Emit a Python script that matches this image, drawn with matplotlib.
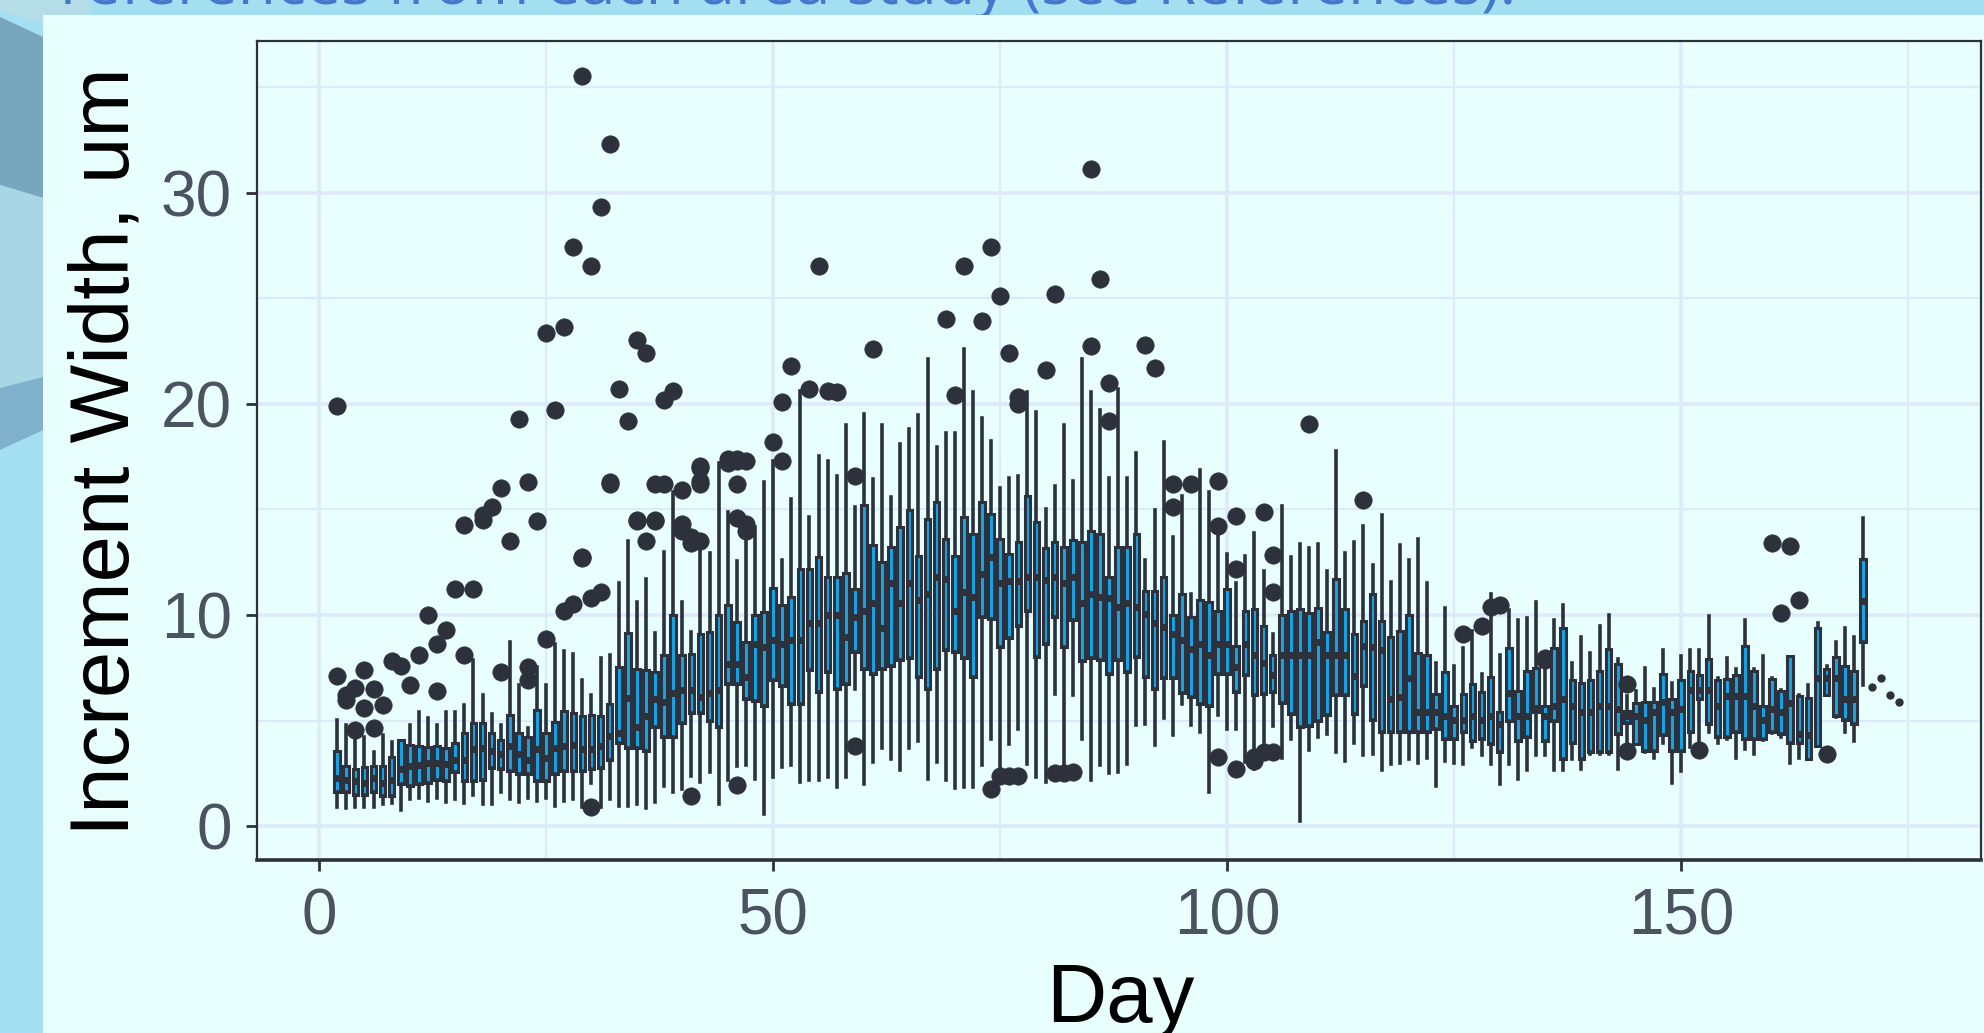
import matplotlib
matplotlib.use("Agg")
import matplotlib.pyplot as plt
from matplotlib.patches import Polygon, Rectangle

# ---------- data ----------
first_day = 2
whishi = [5.04,4.8,4.5,4.2,3.5,4.3,4.0,4.1,4.8,5.4,
          5.1,4.8,5.4,5.4,5.75,7.85,6.2,5.3,4.8,8.7,
          6.7,4.65,7.55,6.7,8.65,8.3,8.15,6.9,6.2,7.95,
          8.1,11.5,13.5,10.6,11.7,9.15,13,15.8,10.6,9.2,
          13.5,12.95,17.2,14.9,12.55,14,14.15,16.3,17.3,12.6,
          15.5,20.6,14.65,17.55,17.3,16.6,19,15.1,19.5,16.45,
          19,15.6,18.1,18.8,19.45,22.1,17.95,18.6,18.6,22.6,
          20.55,19.35,18.25,16,16.5,16.6,20.55,19.6,15,16.1,
          19,16.35,22.1,20.55,19.7,16.5,20.7,16.5,17.65,12.6,
          14.95,18.2,13.7,15.65,11,16.85,15.8,14.5,12.9,11.5,
          12.8,13.9,12.1,9.1,15.15,12.75,13.35,13.15,13.35,12.1,
          17.75,12.95,13.45,14.2,12.35,14.75,11.55,13.3,12.6,13.6,
          11.5,7.75,10.35,7.6,8.45,9.25,7.2,11,8.1,10.25,
          9.75,9.85,10.6,8.2,9.75,10.45,7.75,8.95,8.2,9.5,
          10,7.9,6.15,6.4,7.5,6.5,8.35,6.8,8.05,8.35,
          8.35,9.95,7,7.95,7.45,9.75,7.45,8.05,7,6.45,
          8.05,6.2,6.7,9.6,7.6,8.7,9.4,8.95,14.6]
q3 = [3.55,2.85,2.7,2.8,2.85,2.85,3.3,4.1,3.85,3.8,
      3.75,3.8,3.7,3.95,4.4,4.9,4.9,4.4,4.1,5.25,
      4.4,4.2,5.5,4.4,4.95,5.45,5.35,5.2,5.25,5.2,
      5.8,7.55,9.15,7.45,7.4,7.3,8.1,10,8.1,8.15,
      9.1,9.2,10,10.45,9.65,8.7,10,10.15,11.3,10.45,
      10.85,12.2,12.2,12.75,11.8,11.8,12,11.25,15.2,13.3,
      12.5,13.2,14.15,14.95,12.8,14.55,15.35,13.6,12.8,14.65,
      13.85,15.35,14.8,13.6,12.9,13.45,15.65,14.4,13.15,13.45,
      13.2,13.55,13.45,14,13.85,11.8,13.2,13.2,13.85,11.15,
      11.15,11.8,10,11,9.9,10.7,10.6,10.2,11.25,8.55,
      10.2,10.3,9.5,8.1,10,10.2,10.3,10.1,10.35,9.2,
      11.7,10.3,9.1,9.7,11,9.7,8.95,9.25,10,8.2,
      8.1,6.25,7.3,5.7,6.25,6.75,6.35,7.05,5.4,8.45,
      6.4,7.35,7.5,5.7,8.45,9.4,6.9,6.8,6.9,7.35,
      8.4,7.7,5.45,5.85,5.9,5.9,7.2,6,6.9,7.35,
      7.15,7.9,6.9,6.95,7.15,8.55,7.35,5.7,6.95,6.4,
      8.05,6.15,6.05,9.4,7.45,8,7.6,7.35,12.65]
medians = [2.3,2.2,2.15,2.05,2.3,2.05,2.2,2.7,2.85,2.9,
           3.0,3.0,2.95,3.15,3.15,3.65,3.7,3.55,3.4,3.8,
           3.4,3.15,3.65,3.25,3.7,3.8,3.85,3.65,3.65,3.8,
           4.25,4.4,6.05,4.7,5.2,6,5.9,6.3,6.45,6.45,
           6.1,6.3,6.45,7.7,7.7,7.05,8.65,8.5,8.8,8.65,
           8.8,8.8,9.6,9.6,10,10,8.95,9.9,10.2,10.55,
           9.4,11.5,10.55,11.5,10.7,11,11.8,11.7,10.2,11.1,
           10.85,11.95,12.75,11.5,11.6,11.6,11.8,11.8,11.65,11.8,
           11.5,11.8,10.55,11,10.85,10.8,10.4,10.55,10.4,10.05,
           9.6,9.45,9.1,8.8,8.4,8.65,8.1,8.65,8.65,7.55,
           8.65,8.1,7.75,7.15,8.1,8.1,8.1,8.1,8.7,8.1,
           8.1,8.1,7.1,8.55,8.5,8.35,6,6.1,7,5.4,
           5.4,5.4,5.2,5.05,5.05,5.2,5.05,5.2,4.85,6.3,
           5.2,5.2,5.6,5.2,5.7,6,5.7,5.4,5.4,5.7,
           5.7,5.55,5.2,5.2,5.05,5.4,5.9,5.4,5.55,6.45,
           6.45,6.45,5.7,6.15,6.15,6.15,5.7,5.05,5.55,5.4,
           5.85,4.35,4.3,7,7,7,6,6,10.65]
q1 = [1.6,1.6,1.5,1.5,1.6,1.45,1.45,2.0,1.9,2.0,
      2.05,2.2,2.15,2.55,2.15,2.15,2.2,2.75,2.7,2.6,
      2.45,2.45,2.15,2.15,2.45,2.6,2.6,2.6,2.7,2.75,
      3.15,3.95,3.7,3.7,3.55,4.7,4.2,4.2,4.9,5.35,
      5.35,5,4.7,6.75,6.75,6,5.95,5.7,6.9,6.65,
      5.8,5.8,7.4,6.35,7.3,6.5,6.75,8.25,7.45,7.2,
      7.45,7.6,7.85,7.95,7.05,6.5,7.45,8.35,8.25,7.95,
      7.05,9.9,9.8,8.5,8.9,9.5,10.2,8,8.65,9.9,
      8.5,9.75,7.8,7.95,7.85,7.2,7.85,7.3,8,7.05,
      6.5,7,7,6.3,6.1,5.8,5.7,7.2,7.2,6.35,
      7.15,6.2,6.25,6.35,5.85,5.3,4.7,4.75,5,5.25,
      6.2,6.2,5.3,6.65,5.05,4.45,4.45,4.45,4.45,4.45,
      4.45,4.6,4.15,4.15,4.45,4.05,4.15,3.9,3.5,5,
      4.05,4.2,5.4,4.05,5,3.2,3.95,3.2,3.5,3.5,
      3.5,4.35,4.9,3.9,3.55,3.55,4.3,3.55,3.55,4.45,
      6,4.85,4.2,4.2,4.45,4.15,4.15,4.15,4.45,4.35,
      3.95,3.95,3.2,3.8,6.2,5.2,5.05,4.85,8.7]
whislo = [.92,.85,.92,.92,.92,1.05,1.1,.75,1.3,1.35,
          1.2,1.35,1.15,1.3,1.1,1.5,1.05,1.05,1.6,1.3,
          1.15,1.35,1.2,1.35,.95,1.2,1.3,.9,2.05,.9,
          1.3,.95,.95,1.05,.85,1.15,1.9,1.6,1.75,2.4,
          2.1,2.55,1.05,2.2,2.85,2.9,2.25,.6,2.35,2.8,
          2.9,2.1,2.2,2.2,2.35,1.85,2.35,6.5,2,3.05,
          3.7,3.2,2.65,3.7,4.05,2.25,3.05,2.2,1.8,1.85,
          1.85,2.9,4.15,2.55,3.9,4.6,2.95,2.35,2.1,6.25,
          2.5,6.2,4.15,2.2,2.9,2.5,2.55,2.95,4.8,4.85,
          3.85,5.1,4.3,5.8,4.8,4.45,1.6,5.25,4.6,4.6,
          3.05,2.7,4,4.75,3.25,4.15,.27,3.6,4.2,4.35,
          3.5,3.1,3.95,3.35,3.4,2.65,2.95,3,3.2,3,
          3.25,1.9,3.1,3,2.95,3.75,3.35,2.95,2,2.95,
          2.25,2.65,3.35,3.35,2.65,2.65,3.2,2.7,3.4,3.4,
          3.4,2.7,3.95,3.9,3.5,3.25,3.95,2.05,2.6,3.75,
          3.8,4.45,3.95,4.15,3.25,3.65,3.4,4.1,4.4,4.2,
          3,3.25,3.2,3.8,6.2,5.15,4.45,4.05,6.7]

outlier_days = [2,2,3,3,4,5,6,5,7,4,6,8,9,10,11,12,13,14,13,15,17,16,16,18,18,19,20,20,21,
                23,23,23,24,25,27,28,30,31,29,30,32,35,37,36,37,38,40,42,42,46,45,46,47,
                41,46,40,40,41,41,42,46,47,47,29,32,31,28,30,27,25,26,22,29,32,33,34,35,
                36,35,37,38,39,50,51,51,52,54,56,57,55,61,59,59,69,71,73,74,75,70,76,77,77,
                80,81,85,85,86,87,87,91,92,94,94,96,99,99,101,101,104,105,105,109,115,
                74,75,76,77,81,82,83,99,101,103,103,104,105,45,46,42,42,126,128,130,129,
                135,135,144,144,152,160,162,161,163,166]
outlier_vals = [19.9,7.1,5.98,6.2,6.55,7.4,6.5,5.6,5.75,4.55,4.65,7.8,7.6,6.7,8.1,10,8.65,9.3,6.4,11.25,11.25,8.1,14.25,14.5,14.75,15.1,16,7.3,13.5,
                16.3,7.55,6.9,14.45,8.85,10.2,10.5,10.8,11.1,12.7,0.9,16.2,14.45,14.45,13.5,16.2,16.2,15.9,16.95,16.2,16.2,17.2,17.3,17.3,
                1.45,1.95,14.3,14,13.7,13.4,13.5,14.6,14.3,14,35.5,32.3,29.3,27.4,26.5,23.65,23.35,19.7,19.3,12.75,16.3,20.7,19.2,23,
                22.4,14.5,14.5,20.2,20.6,18.2,20.1,17.3,21.8,20.7,20.6,20.55,26.5,22.6,16.6,3.8,24,26.5,23.9,27.4,25.1,20.4,22.4,20.3,20,
                21.6,25.2,31.1,22.75,25.9,21,19.2,22.8,21.7,16.2,15.1,16.2,16.35,14.2,14.7,12.2,14.9,12.85,11.1,19.05,15.45,
                1.75,2.4,2.4,2.4,2.5,2.5,2.55,3.3,2.7,3.1,3.3,3.5,3.5,17.4,17.4,16.35,17.05,9.1,9.5,10.45,10.4,
                7.95,7.85,6.75,3.55,3.6,13.4,13.25,10.1,10.7,3.4]

single_days = [171, 172, 173, 174]
single_vals = [6.6, 7.0, 6.2, 5.9]

x_ticks = [0, 50, 100, 150]
x_minor = [25, 75, 125, 175]
y_ticks = [0, 10, 20, 30]
y_minor = [5, 15, 25, 35]
x_label = "Day"
y_label = "Increment Width, um"
top_text = "references from each area study (see References)."

# ---------- style ----------
W, H = 1984, 1033
STRIP = "#A4DFF1"
PANEL = "#E9FFFE"
DARK = "#2C313C"
FILL = "#14A5E8"
GRID = "#DDEAFA"
TICKTXT = "#4A5360"

plt.rcParams["font.family"] = ["Liberation Sans", "DejaVu Sans"]
fig = plt.figure(figsize=(W / 100, H / 100), dpi=100, facecolor=STRIP)

def px(points):
    return [(x / W, 1 - y / H) for x, y in points]

# decorative background strip on the left edge and the clipped slide text
decor = [([(0, 0), (90, 0), (90, 15), (43, 15), (43, 22), (0, 12)], "#B4DDE8"),
         ([(0, 17), (43, 37), (43, 198), (0, 185)], "#77A6BE"),
         ([(0, 185), (43, 198), (43, 377), (0, 388)], "#A8D6E5"),
         ([(0, 388), (43, 377), (43, 430), (0, 450)], "#7FB0CC")]
for pts, col in decor:
    fig.add_artist(Polygon(px(pts), closed=True, transform=fig.transFigure,
                           facecolor=col, edgecolor="none", zorder=1))
fig.text(60 / W, 1 - 4 / H, top_text, family="Open Sans", fontsize=45,
         color="#4478CC", ha="left", va="baseline", zorder=1)
fig.add_artist(Rectangle((43 / W, 0), 1 - 43 / W, 1 - 15 / H, transform=fig.transFigure,
                         facecolor=PANEL, edgecolor="none", zorder=2))

ax = fig.add_axes([257 / W, (H - 860) / H, (1981 - 257) / W, (860 - 40.5) / H])
ax.set_zorder(3)
ax.set_facecolor(PANEL)
ax.set_xlim(-6.83, 183)
ax.set_ylim(-1.6, 37.2)

ax.set_xticks(x_ticks)
ax.set_xticks(x_minor, minor=True)
ax.set_yticks(y_ticks)
ax.set_yticks(y_minor, minor=True)
ax.set_axisbelow(True)
ax.grid(True, which="major", color=GRID, linewidth=2.6)
ax.grid(True, which="minor", color=GRID, linewidth=1.6)

stats = []
days = list(range(first_day, first_day + len(medians)))
for i, d in enumerate(days):
    stats.append(dict(med=medians[i], q1=q1[i], q3=q3[i], whislo=whislo[i], whishi=whishi[i],
                      fliers=[v for od, v in zip(outlier_days, outlier_vals) if od == d]))
ax.bxp(stats, positions=days, widths=0.62, patch_artist=True, showcaps=False, manage_ticks=False,
       boxprops=dict(facecolor=FILL, edgecolor=DARK, linewidth=2.2),
       whiskerprops=dict(color=DARK, linewidth=2.6),
       medianprops=dict(color=DARK, linewidth=5.0, solid_capstyle="butt"),
       flierprops=dict(marker="o", markerfacecolor=DARK, markeredgecolor=DARK,
                       markersize=12.5, markeredgewidth=0.5))
ax.plot(single_days, single_vals, linestyle="none", marker="o", markersize=5, color=DARK)

ax.tick_params(axis="both", which="major", length=8, width=2, color=DARK,
               labelsize=46, labelcolor=TICKTXT)
ax.tick_params(axis="x", pad=12)
ax.tick_params(axis="y", pad=10)
ax.tick_params(axis="both", which="minor", length=0)

for name, lw in (("left", 1.6), ("top", 1.6), ("right", 1.6), ("bottom", 2.6)):
    ax.spines[name].set_linewidth(lw)
    ax.spines[name].set_color(DARK)

fig.text(1120 / W, 1 - 1022 / H, x_label, fontsize=60, color="black", ha="center", va="baseline", zorder=4)
fig.text(107 / W, 1 - 452 / H, y_label, fontsize=60, color="black", rotation=90,
         ha="center", va="center", zorder=4)

fig.savefig("out.png", dpi=100, facecolor=fig.get_facecolor())
